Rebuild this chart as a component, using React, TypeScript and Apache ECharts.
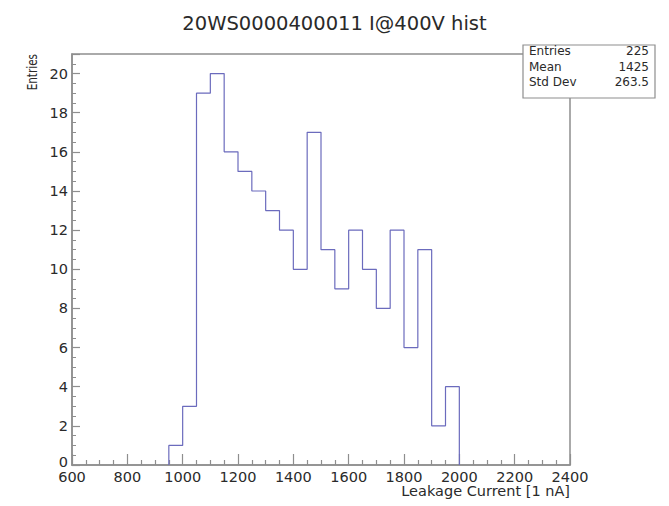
import React, { useEffect, useRef } from "react";
import * as echarts from "echarts";

// Histogram binning: 21 bins of 50 nA starting at 950 nA
const binLowEdge = 950;
const binWidth = 50;
const binCounts = [1, 3, 19, 20, 16, 15, 14, 13, 12, 10, 17, 11, 9, 12, 10, 8, 12, 6, 11, 2, 4];

// Statistics box contents
const statLabels = ["Entries", "Mean", "Std Dev"];
const statValues = ["225", "1425", "263.5"];

const titleText = "20WS0000400011 I@400V hist";
const xTitle = "Leakage Current [1 nA]";
const yTitle = "Entries";

const FONT = "DejaVu Sans";
const AXIS_COLOR = "#8e8e8e";
const TEXT_COLOR = "#2a2a2a";
const HIST_COLOR = "#6b6bbd";

// Step-line outline of the histogram: rise at the first edge, then one point per bin
function histOutline(): [number, number][] {
  const pts: [number, number][] = [[binLowEdge, 0]];
  binCounts.forEach((c, i) => pts.push([binLowEdge + i * binWidth, c]));
  pts.push([binLowEdge + binCounts.length * binWidth, 0]);
  return pts;
}

export default function App() {
  const ref = useRef<HTMLDivElement>(null);

  useEffect(() => {
    if (!ref.current) return;
    const chart = echarts.init(ref.current, null, { renderer: "svg" });

    const gridLeft = 72;
    const gridRight = 570;
    const gridTop = 54;
    const gridBottom = 465;

    const boxX = 523;
    const boxY = 45;
    const boxW = 132;
    const boxH = 53;
    const rowY = [51, 67, 82];

    chart.setOption({
      animation: false,
      backgroundColor: "#ffffff",
      title: {
        text: titleText,
        left: "center",
        top: 8,
        textStyle: {
          fontFamily: FONT,
          fontSize: 19.5,
          fontWeight: "normal",
          color: TEXT_COLOR,
        },
      },
      grid: {
        left: gridLeft,
        right: 669 - gridRight,
        top: gridTop,
        bottom: 506 - gridBottom,
        containLabel: false,
        outerBoundsMode: "none",
        show: true,
        borderColor: AXIS_COLOR,
        borderWidth: 1.5,
        backgroundColor: "transparent",
      },
      xAxis: {
        type: "value",
        min: 600,
        max: 2400,
        interval: 200,
        axisLine: { show: true, lineStyle: { color: AXIS_COLOR, width: 1.5 } },
        axisTick: { show: true, inside: true, length: 11, lineStyle: { color: AXIS_COLOR, width: 1.2 } },
        minorTick: { show: true, splitNumber: 4, length: 5, lineStyle: { color: AXIS_COLOR, width: 1.2 } },
        axisLabel: {
          fontFamily: FONT,
          fontSize: 14.5,
          lineHeight: 13,
          color: TEXT_COLOR,
          margin: 5,
          formatter: (v: number) => String(v),
        },
        splitLine: { show: false },
      },
      yAxis: {
        type: "value",
        min: 0,
        max: 21,
        interval: 2,
        axisLine: { show: true, lineStyle: { color: AXIS_COLOR, width: 1.5 } },
        axisTick: { show: true, inside: true, length: 8, lineStyle: { color: AXIS_COLOR, width: 1.2 } },
        minorTick: { show: true, splitNumber: 4, length: 4, lineStyle: { color: AXIS_COLOR, width: 1 } },
        axisLabel: {
          fontFamily: FONT,
          fontSize: 14.5,
          lineHeight: 13,
          color: TEXT_COLOR,
          margin: 4,
          showMaxLabel: false,
          formatter: (v: number) => (v === 0 ? "{zero|0}" : String(v)),
          rich: {
            zero: {
              fontFamily: FONT,
              fontSize: 14.5,
              lineHeight: 13,
              color: TEXT_COLOR,
              padding: [0, 0, 7, 0],
            },
          },
        },
        splitLine: { show: false },
      },
      series: [
        {
          type: "line",
          step: "end",
          data: histOutline(),
          symbol: "none",
          lineStyle: { color: HIST_COLOR, width: 1.2 },
          z: 3,
        },
      ],
      graphic: [
        // x-axis title, right-aligned to the frame
        {
          type: "text",
          x: gridRight,
          y: 491,
          style: {
            text: xTitle,
            fontFamily: FONT,
            fontSize: 14.5,
            lineHeight: 13,
            fill: TEXT_COLOR,
            align: "right",
            verticalAlign: "middle",
          },
        },
        // y-axis title, rotated, ending at the top of the frame
        {
          type: "text",
          x: 32,
          y: gridTop,
          rotation: Math.PI / 2,
          scaleX: 0.72,
          style: {
            text: yTitle,
            fontFamily: FONT,
            fontSize: 14.5,
            fill: TEXT_COLOR,
            align: "right",
            verticalAlign: "middle",
          },
        },
        // statistics box
        {
          type: "group",
          z: 10,
          children: [
            {
              type: "rect",
              shape: { x: boxX, y: boxY, width: boxW, height: boxH },
              style: { fill: "#ffffff", stroke: AXIS_COLOR, lineWidth: 1.2 },
            },
            ...statLabels.map((t, i) => ({
              type: "text",
              x: boxX + 6,
              y: rowY[i],
              style: {
                text: t,
                fontFamily: FONT,
                fontSize: 12,
                fill: TEXT_COLOR,
                align: "left",
                verticalAlign: "middle",
              },
            })),
            ...statValues.map((t, i) => ({
              type: "text",
              x: boxX + boxW - 6,
              y: rowY[i],
              style: {
                text: t,
                fontFamily: FONT,
                fontSize: 12,
                fill: TEXT_COLOR,
                align: "right",
                verticalAlign: "middle",
              },
            })),
          ],
        },
      ],
    });

    return () => chart.dispose();
  }, []);

  return (
    <div
      ref={ref}
      style={{ position: "absolute", left: 0, top: 0, width: 669, height: 506 }}
    />
  );
}
